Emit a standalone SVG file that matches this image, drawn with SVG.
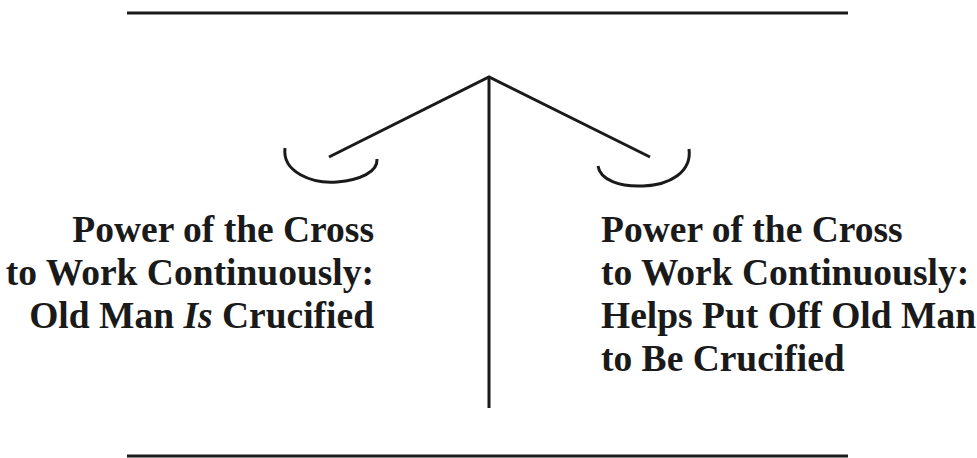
<svg xmlns="http://www.w3.org/2000/svg" width="977" height="458" viewBox="0 0 977 458">
<style>
.ln{stroke:#1a1a1a;stroke-width:3;fill:none;stroke-linecap:butt}
.t{font-family:"Liberation Serif","Times New Roman",serif;font-weight:bold;font-size:37.5px;fill:#1a1a1a}
</style>
<rect width="977" height="458" fill="#ffffff"/>
<g id="connectors">
<line class="ln" x1="127" y1="13" x2="848" y2="13"/>
<line class="ln" x1="127" y1="456" x2="848" y2="456"/>
<line class="ln" x1="489" y1="77" x2="489" y2="408"/>
<polyline class="ln" points="329,157 489,77 650,157"/>
</g>
<g id="left-pan">
<path class="ln" d="M285,148 C282,172 312,184 337,182 C360,180 378,172 377,159"/>
</g>
<g id="right-pan">
<path class="ln" d="M598,166 C600,180 620,187 643,186 C670,185 692,172 689,149"/>
</g>
<g id="left-label">
<text class="t" text-anchor="end" x="374" y="242">Power of the Cross</text>
<text class="t" text-anchor="end" x="374" y="285">to Work Continuously:</text>
<text class="t" text-anchor="end" x="374" y="328">Old Man <tspan font-style="italic">Is</tspan> Crucified</text>
</g>
<g id="right-label">
<text class="t" x="601" y="242">Power of the Cross</text>
<text class="t" x="601" y="285">to Work Continuously:</text>
<text class="t" x="601" y="328">Helps Put Off Old Man</text>
<text class="t" x="601" y="371">to Be Crucified</text>
</g>
</svg>
